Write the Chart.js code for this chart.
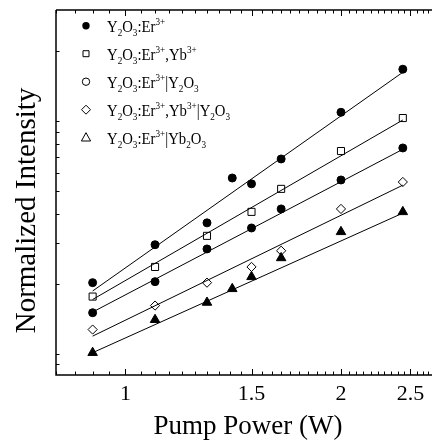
<!DOCTYPE html>
<html><head><meta charset="utf-8">
<script src="https://cdn.jsdelivr.net/npm/chart.js@4/dist/chart.umd.min.js"></script>
<style>html,body{margin:0;padding:0;background:#fff;overflow:hidden}</style>
</head><body>
<canvas id="c" width="432" height="441"></canvas>
<script>
// ---- data ----
const pumpPower1 = [0.9, 1.1, 1.3, 1.41, 1.5, 1.65, 2.0, 2.44];
const intensity1 = [2.02, 2.94, 3.65, 5.69, 5.37, 6.87, 10.9, 16.7];
const pumpPower2 = [0.9, 1.1, 1.3, 1.5, 1.65, 2.0, 2.44];
const intensity2 = [1.76, 2.36, 3.21, 4.07, 5.11, 7.43, 10.3];
const pumpPower3 = [0.9, 1.1, 1.3, 1.5, 1.65, 2.0, 2.44];
const intensity3 = [1.50, 2.04, 2.82, 3.47, 4.19, 5.58, 7.66];
const pumpPower4 = [0.9, 1.1, 1.3, 1.5, 1.65, 2.0, 2.44];
const intensity4 = [1.27, 1.61, 2.02, 2.36, 2.77, 4.19, 5.47];
const pumpPower5 = [0.9, 1.1, 1.3, 1.41, 1.5, 1.65, 2.0, 2.44];
const intensity5 = [1.01, 1.40, 1.66, 1.90, 2.14, 2.58, 3.34, 4.07];
// fitted lines: start / end values
const fitPower = [0.9, 2.44];
const fit1 = [1.86, 16.2];
const fit2 = [1.71, 10.1];
const fit3 = [1.51, 7.56];
const fit4 = [1.19, 5.30];
const fit5 = [1.01, 4.02];
const xTickLabels = [1, 1.5, 2, 2.5];
const yTickValues = [0.9, 1, 2, 3, 4, 5, 6, 7, 8, 9, 10, 20];
const seriesNames = [
  'Y_2O_3:Er^{3+}',
  'Y_2O_3:Er^{3+},Yb^{3+}',
  'Y_2O_3:Er^{3+}|Y_2O_3',
  'Y_2O_3:Er^{3+},Yb^{3+}|Y_2O_3',
  'Y_2O_3:Er^{3+}|Yb_2O_3'
];
const xAxisTitle = 'Pump Power (W)';
const yAxisTitle = 'Normalized Intensity';

const FONT = "'Liberation Serif', 'Times New Roman', serif";
const pts = (xs, ys) => xs.map((x, i) => ({x, y: ys[i]}));

const xMinor = [];
for (let v = 80; v <= 268; v += 5) xMinor.push(v / 100);

function parseRich(s) {
  const segs = []; let buf = ''; let i = 0;
  while (i < s.length) {
    const c = s[i];
    if (c === '_' || c === '^') {
      if (buf) { segs.push([buf, 0]); buf = ''; }
      let t;
      if (s[i + 1] === '{') { const j = s.indexOf('}', i); t = s.slice(i + 2, j); i = j + 1; }
      else { t = s[i + 1]; i += 2; }
      segs.push([t, c === '_' ? 1 : -1]);
    } else { buf += c; i++; }
  }
  if (buf) segs.push([buf, 0]);
  return segs;
}

function marker(ctx, style, x, y, filled) {
  ctx.save();
  ctx.lineWidth = 1; ctx.strokeStyle = '#000'; ctx.fillStyle = '#000';
  ctx.beginPath();
  if (style === 'circle') ctx.arc(x, y, 3.7, 0, Math.PI * 2);
  else if (style === 'rect') ctx.rect(x - 3, y - 3, 6, 6);
  else if (style === 'rectRot') { ctx.moveTo(x, y - 4.5); ctx.lineTo(x + 4.5, y); ctx.lineTo(x, y + 4.5); ctx.lineTo(x - 4.5, y); ctx.closePath(); }
  else if (style === 'triangle') { ctx.moveTo(x, y - 5); ctx.lineTo(x + 4.6, y + 3.3); ctx.lineTo(x - 4.6, y + 3.3); ctx.closePath(); }
  if (filled) ctx.fill(); else ctx.stroke();
  ctx.restore();
}

const framePlugin = {
  id: 'frame',
  afterDraw(chart) {
    const {ctx, chartArea: a, scales: {x, y}} = chart;
    const W = chart.width;
    ctx.save();
    ctx.strokeStyle = '#000';
    ctx.lineWidth = 1.5;
    ctx.beginPath();
    ctx.moveTo(a.left, a.top); ctx.lineTo(W, a.top);
    ctx.moveTo(a.left, a.top); ctx.lineTo(a.left, a.bottom);
    ctx.lineTo(W, a.bottom);
    ctx.stroke();
    ctx.lineWidth = 1;
    ctx.beginPath();
    xMinor.forEach(v => {
      const px = Math.round(x.getPixelForValue(v)) + 0.5;
      const major = xTickLabels.some(t => Math.abs(t - v) < 1e-6);
      const len = major ? 6 : 3.5;
      ctx.moveTo(px, a.bottom); ctx.lineTo(px, a.bottom - len);
      ctx.moveTo(px, a.top); ctx.lineTo(px, a.top + len);
    });
    yTickValues.forEach(v => {
      const py = Math.round(y.getPixelForValue(v)) + 0.5;
      ctx.moveTo(a.left, py); ctx.lineTo(a.left + 3.5, py);
    });
    ctx.stroke();
    // axis titles
    ctx.fillStyle = '#000';
    ctx.textAlign = 'center'; ctx.textBaseline = 'alphabetic';
    ctx.font = '27px ' + FONT;
    ctx.fillText(xAxisTitle, 248, 433.5);
    ctx.save();
    ctx.translate(35, 210.5);
    ctx.rotate(-Math.PI / 2);
    ctx.font = '29px ' + FONT;
    ctx.fillText(yAxisTitle, 0, 0);
    ctx.restore();
    // legend
    const styles = [['circle', true], ['rect', false], ['circle', false], ['rectRot', false], ['triangle', false]];
    ctx.textAlign = 'left';
    seriesNames.forEach((name, i) => {
      const my = 25.7 + i * 28;
      marker(ctx, styles[i][0], 86, my, styles[i][1]);
      const base = my + 6;
      ctx.save();
      ctx.translate(107, 0);
      ctx.scale(0.92, 1);
      let tx = 0;
      parseRich(name).forEach(([t, m]) => {
        ctx.font = (m === 0 ? '16px ' : '10px ') + FONT;
        const yy = m === 0 ? base : (m === 1 ? base + 4.3 : base - 6.5);
        ctx.fillText(t, tx, yy);
        tx += ctx.measureText(t).width;
      });
      ctx.restore();
    });
    ctx.restore();
  }
};

const scatterDs = (label, xs, ys, style, r, filled) => ({
  type: 'scatter', label, data: pts(xs, ys), showLine: false,
  pointStyle: style, pointRadius: r, pointHoverRadius: r,
  pointBackgroundColor: filled ? '#000' : 'rgba(0,0,0,0)', pointBorderColor: '#000', pointBorderWidth: 1
});
const fitDs = (ys) => ({
  type: 'line', data: pts(fitPower, ys), showLine: true, borderColor: '#000', borderWidth: 1,
  pointRadius: 0, fill: false, tension: 0
});

new Chart(document.getElementById('c'), {
  data: {
    datasets: [
      fitDs(fit1), fitDs(fit2), fitDs(fit3), fitDs(fit4), fitDs(fit5),
      scatterDs(seriesNames[0], pumpPower1, intensity1, 'circle', 4, true),
      scatterDs(seriesNames[1], pumpPower2, intensity2, 'rect', 5, false),
      scatterDs(seriesNames[2], pumpPower3, intensity3, 'circle', 4, true),
      scatterDs(seriesNames[3], pumpPower4, intensity4, 'rectRot', 4.6, false),
      scatterDs(seriesNames[4], pumpPower5, intensity5, 'triangle', 5.5, true)
    ]
  },
  options: {
    responsive: false, animation: false, devicePixelRatio: 1,
    layout: {autoPadding: false, padding: {left: 0, right: 0, top: 10, bottom: 0}},
    plugins: {legend: {display: false}, tooltip: {enabled: false}},
    scales: {
      x: {
        type: 'logarithmic', position: 'bottom', min: 0.8, max: 2.68,
        grid: {display: false, drawTicks: false}, border: {display: false},
        afterBuildTicks: s => { s.ticks = xTickLabels.map(v => ({value: v})); },
        ticks: {color: '#000', font: {family: FONT, size: 22}, padding: 6, autoSkip: false, maxRotation: 0,
          callback: v => String(v)},
        title: {display: false},
        afterFit: s => { s.height = 66; s.paddingLeft = 0; s.paddingRight = 0; }
      },
      y: {
        type: 'logarithmic', position: 'left', min: 0.81, max: 30,
        grid: {display: false, drawTicks: false}, border: {display: false},
        ticks: {display: false},
        title: {display: false},
        afterFit: s => { s.width = 56; s.paddingTop = 0; s.paddingBottom = 0; }
      }
    }
  },
  plugins: [framePlugin]
});
</script>
</body></html>
